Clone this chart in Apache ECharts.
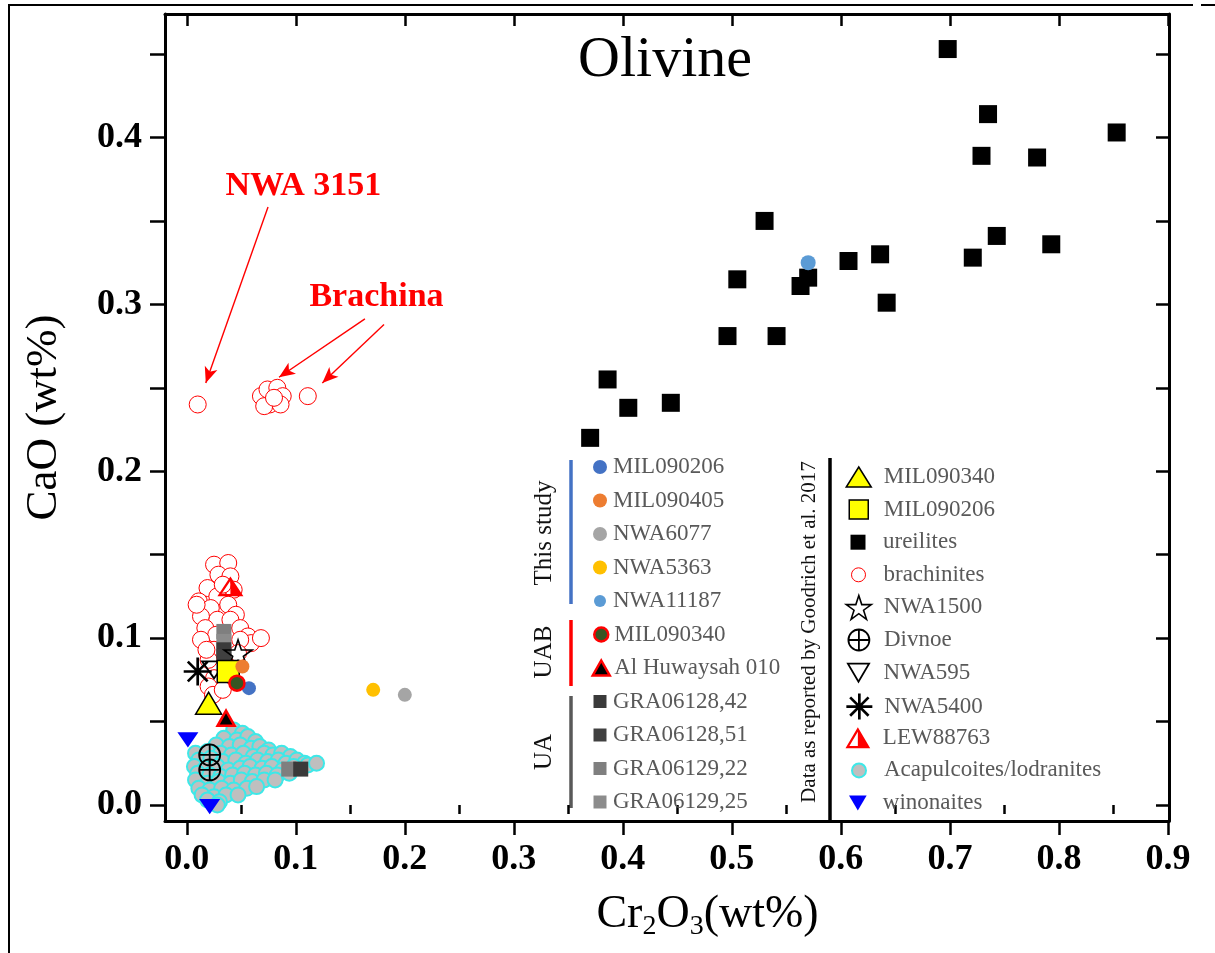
<!DOCTYPE html>
<html>
<head>
<meta charset="utf-8">
<script src="https://cdn.jsdelivr.net/npm/echarts@6/dist/echarts.min.js"></script>
<style>
  html, body { margin: 0; padding: 0; background: #fff; }
  #chart { width: 1215px; height: 953px; }
</style>
</head>
<body>
<div id="chart"></div>
<script>
// ---- axis ticks ----
const xTicks = [0, 0.1, 0.2, 0.3, 0.4, 0.5, 0.6, 0.7, 0.8, 0.9];
const xMinorTicks = [0.05, 0.15, 0.25, 0.35, 0.45, 0.55, 0.65, 0.75, 0.85];
const yTicks = [0, 0.1, 0.2, 0.3, 0.4];
const yAllTicks = [0, 0.05, 0.1, 0.15, 0.2, 0.25, 0.3, 0.35, 0.4, 0.45];

// ---- olivine Cr2O3 (x) vs CaO (y), wt% ----
// This study
const mil090206 = [[0.057, 0.070]];
const mil090405 = [[0.051, 0.083]];
const nwa6077 = [[0.200, 0.066]];
const nwa5363 = [[0.171, 0.069]];
const nwa11187 = [[0.570, 0.325]];
// UAB
const mil090340Uab = [[0.046, 0.073]];
const alHuwaysah010 = [[0.036, 0.052]];
// UA
const gra06128_42 = [[0.034, 0.093], [0.1045, 0.0215]];
const gra06128_51 = [[0.034, 0.089]];
const gra06129_22 = [[0.034, 0.104], [0.0935, 0.0215]];
const gra06129_25 = [[0.034, 0.098]];
// Goodrich et al. 2017
const mil090340G = [[0.020, 0.061]];
const mil090206G = [[0.038, 0.080]];
const ureilites = [
  [0.698, 0.453], [0.735, 0.414], [0.729, 0.389], [0.780, 0.388], [0.853, 0.403],
  [0.530, 0.350], [0.743, 0.341], [0.793, 0.336], [0.721, 0.328], [0.607, 0.326],
  [0.636, 0.330], [0.505, 0.315], [0.570, 0.316], [0.563, 0.311], [0.642, 0.301],
  [0.496, 0.281], [0.541, 0.281], [0.386, 0.255], [0.405, 0.238], [0.444, 0.241],
  [0.370, 0.220]
];
const brachinites = [
  [0.010, 0.240],
  [0.068, 0.245], [0.074, 0.249], [0.083, 0.250], [0.088, 0.245], [0.076, 0.240],
  [0.086, 0.240], [0.071, 0.239], [0.080, 0.244],
  [0.111, 0.245],
  [0.025, 0.144], [0.038, 0.145], [0.029, 0.138], [0.040, 0.137], [0.019, 0.130],
  [0.011, 0.122], [0.028, 0.125], [0.043, 0.129], [0.038, 0.120], [0.022, 0.118],
  [0.013, 0.113], [0.045, 0.114], [0.028, 0.111], [0.040, 0.111], [0.017, 0.106],
  [0.027, 0.102], [0.049, 0.106], [0.013, 0.099], [0.056, 0.101], [0.059, 0.097],
  [0.049, 0.099], [0.025, 0.093], [0.047, 0.091], [0.020, 0.087], [0.025, 0.076],
  [0.020, 0.071], [0.024, 0.066], [0.033, 0.069], [0.009, 0.120], [0.033, 0.132],
  [0.018, 0.093], [0.068, 0.100]
];
const nwa1500 = [[0.047, 0.091]];
const divnoe = [[0.021, 0.030], [0.021, 0.021]];
const nwa595 = [[0.025, 0.081]];
const nwa5400 = [[0.010, 0.080]];
const lew88763 = [[0.040, 0.131]];
const acapulcoites = [
  [0.043, 0.045], [0.051, 0.043],
  [0.034, 0.040], [0.046, 0.039], [0.056, 0.041], [0.063, 0.038],
  [0.027, 0.036], [0.039, 0.035], [0.049, 0.036], [0.059, 0.034], [0.067, 0.035], [0.075, 0.033],
  [0.008, 0.031], [0.019, 0.032], [0.031, 0.031], [0.041, 0.030], [0.052, 0.031], [0.061, 0.029],
  [0.071, 0.031], [0.079, 0.030], [0.087, 0.031], [0.095, 0.029],
  [0.011, 0.027], [0.022, 0.028], [0.033, 0.026], [0.045, 0.027], [0.054, 0.025], [0.065, 0.027],
  [0.074, 0.026], [0.084, 0.027], [0.091, 0.025], [0.101, 0.027], [0.108, 0.025],
  [0.007, 0.023], [0.017, 0.022], [0.028, 0.023], [0.038, 0.021], [0.049, 0.022], [0.058, 0.023],
  [0.069, 0.022], [0.078, 0.023], [0.088, 0.021], [0.098, 0.023], [0.111, 0.024], [0.119, 0.025],
  [0.010, 0.019], [0.021, 0.018], [0.031, 0.017], [0.042, 0.018], [0.053, 0.019], [0.063, 0.018],
  [0.073, 0.019], [0.083, 0.018], [0.094, 0.019],
  [0.008, 0.015], [0.019, 0.013], [0.029, 0.014], [0.040, 0.013], [0.050, 0.015], [0.060, 0.014],
  [0.071, 0.015], [0.081, 0.015],
  [0.011, 0.010], [0.021, 0.009], [0.032, 0.010], [0.043, 0.009], [0.055, 0.010], [0.064, 0.011],
  [0.014, 0.006], [0.025, 0.005], [0.036, 0.006], [0.047, 0.006],
  [0.019, 0.003], [0.030, 0.002],
  [0.028, 0.000]
];
const winonaites = [[0.001, 0.039], [0.021, -0.001]];

// ---- annotations ----
const noteLabels = [
  { name: 'NWA 3151', value: [0.107, 0.371] },
  { name: 'Brachina', value: [0.174, 0.304] }
];
const noteArrows = [
  [[0.0745, 0.3584], [0.0174, 0.2529]],
  [[0.1634, 0.2913], [0.0846, 0.2563]],
  [[0.1809, 0.2879], [0.1243, 0.2529]]
];

// ---- drawing ----
const SERIF = "'Liberation Serif', 'Times New Roman', serif";
const X_MIN = -0.02, X_MAX = 0.901;
const Y_MIN = -0.0096, Y_MAX = 0.474;

const STAR = 'path://M0,-10 L2.245,-3.09 L9.511,-3.09 L3.633,1.18 L5.878,8.09 L0,3.82 L-5.878,8.09 L-3.633,1.18 L-9.511,-3.09 L-2.245,-3.09 Z';
const CROSS_CIRCLE = 'path://M-10,0 A10,10 0 1,1 10,0 A10,10 0 1,1 -10,0 Z M-10,0 L10,0 M0,-10 L0,10';
const ASTERISK = 'path://M-10,0 L10,0 M0,-10 L0,10 M-7.07,-7.07 L7.07,7.07 M-7.07,7.07 L7.07,-7.07';
const HALF_TRIANGLE = 'path://M0,0 L10,17 L-10,17 Z M0,3.55 L-6.85,15.2 L6.85,15.2 Z M0,0 L10,17 L0,17 Z';
const DOWN_TRIANGLE = 'path://M-10,0 L10,0 L0,17 Z';

function scatter(name, data, symbol, size, itemStyle, extra) {
  return Object.assign({
    type: 'scatter', name: name, data: data, symbol: symbol, symbolSize: size,
    symbolKeepAspect: true, itemStyle: Object.assign({ opacity: 1 }, itemStyle),
    emphasis: { disabled: true }, z: 3
  }, extra || {});
}

const series = [
  scatter('brachinites', brachinites, 'circle', 17, { color: '#fff', borderColor: '#ff0000', borderWidth: 1 }),
  scatter('Acapulcoites/lodranites', acapulcoites, 'circle', 15, { color: '#bfbfbf', borderColor: '#3ee8e8', borderWidth: 2 }),
  scatter('winonaites', winonaites, DOWN_TRIANGLE, [21, 18], { color: '#0000ff' }),
  scatter('LEW88763', lew88763, HALF_TRIANGLE, [26, 23], { color: '#ff0000', borderWidth: 0 }),
  scatter('GRA06129,22', gra06129_22, 'rect', 15, { color: '#7f7f7f' }),
  scatter('GRA06129,25', gra06129_25, 'rect', 15, { color: '#8c8c8c' }),
  scatter('GRA06128,42', gra06128_42, 'rect', 15, { color: '#3a3a3a' }),
  scatter('GRA06128,51', gra06128_51, 'rect', 15, { color: '#404040' }),
  scatter('NWA595', nwa595, DOWN_TRIANGLE, [24, 20], { color: 'transparent', borderColor: '#000', borderWidth: 1.8 }),
  scatter('NWA1500', nwa1500, STAR, 28, { color: 'transparent', borderColor: '#000', borderWidth: 1.6 }),
  scatter('NWA5400', nwa5400, ASTERISK, 28, { color: 'transparent', borderColor: '#000', borderWidth: 2.7 }),
  scatter('Divnoe', divnoe, CROSS_CIRCLE, 21, { color: 'transparent', borderColor: '#000', borderWidth: 1.8 }),
  scatter('MIL090340 (Goodrich)', mil090340G, 'triangle', [26, 22], { color: '#ffff00', borderColor: '#000', borderWidth: 1.5 }),
  scatter('MIL090206 (Goodrich)', mil090206G, 'rect', 22, { color: '#ffff00', borderColor: '#000', borderWidth: 1.5 }),
  scatter('MIL090206', mil090206, 'circle', 14, { color: '#4472c4' }),
  scatter('MIL090405', mil090405, 'circle', 14, { color: '#ed7d31' }),
  scatter('MIL090340', mil090340Uab, 'circle', 15, { color: '#375623', borderColor: '#ff0000', borderWidth: 2.5 }),
  scatter('Al Huwaysah 010', alHuwaysah010, 'triangle', [17, 15], { color: '#000', borderColor: '#ff0000', borderWidth: 2.5 }),
  scatter('ureilites', ureilites, 'rect', 18, { color: '#000' }),
  scatter('NWA11187', nwa11187, 'circle', 15, { color: '#5b9bd5' }),
  scatter('NWA5363', nwa5363, 'circle', 14, { color: '#ffc000' }),
  scatter('NWA6077', nwa6077, 'circle', 14, { color: '#a5a5a5' }),
  {
    type: 'scatter', name: 'notes', data: noteLabels, symbolSize: 0, silent: true, z: 4,
    itemStyle: { opacity: 1 },
    label: {
      show: true, position: 'inside', formatter: '{b}', opacity: 1,
      fontFamily: SERIF, fontWeight: 'bold', fontSize: 34, color: '#ff0000'
    },
    markLine: {
      silent: true, animation: false,
      symbol: ['none', 'arrow'], symbolSize: [10, 16],
      label: { show: false },
      lineStyle: { color: '#ff0000', width: 1.4, type: 'solid', opacity: 1 },
      emphasis: { disabled: true },
      data: noteArrows.map(a => [{ coord: a[0] }, { coord: a[1] }])
    }
  }
];

// ---- legends: one component per row so each icon gets its own size ----
const LEGEND_TEXT = { fontFamily: SERIF, fontSize: 23, color: '#595959', lineHeight: 26 };
function legendRow(name, cx, cy, w, h, textX, label, itemStyle) {
  const pad = textX - (cx + w / 2 + 5);
  const row = {
    data: [name], left: cx - w / 2, top: cy - Math.max(h, 26) / 2,
    itemWidth: w, itemHeight: h, padding: 0, selectedMode: false,
    textStyle: Object.assign({ padding: [0, 0, 0, pad] }, LEGEND_TEXT)
  };
  if (label) row.formatter = () => label;
  if (itemStyle) row.itemStyle = itemStyle;
  return row;
}

const leftRows = [
  ['MIL090206', 14, 14], ['MIL090405', 14, 14], ['NWA6077', 14, 14], ['NWA5363', 14, 14],
  ['NWA11187', 12, 12], ['MIL090340', 14, 14, null, { borderWidth: 2.5 }],
  ['Al Huwaysah 010', 17, 15, null, { borderWidth: 2.5 }],
  ['GRA06128,42', 13, 13], ['GRA06128,51', 13, 13], ['GRA06129,22', 13, 13], ['GRA06129,25', 13, 13]
];
const rightRows = [
  ['MIL090340 (Goodrich)', 25, 20, 'MIL090340', { borderWidth: 1.5 }],
  ['MIL090206 (Goodrich)', 19, 19, 'MIL090206', { borderWidth: 1.5 }],
  ['ureilites', 15, 15], ['brachinites', 14, 14, null, { borderWidth: 1 }],
  ['NWA1500', 25, 24, null, { borderWidth: 1.6 }], ['Divnoe', 21, 21, null, { borderWidth: 1.8 }],
  ['NWA595', 22, 18, null, { borderWidth: 1.8 }], ['NWA5400', 26, 26, null, { borderWidth: 2.7 }],
  ['LEW88763', 25, 21, null, { borderWidth: 0 }],
  ['Acapulcoites/lodranites', 14, 14, null, { borderWidth: 2 }],
  ['winonaites', 18, 15]
];
const legends = [];
leftRows.forEach((r, i) => legends.push(legendRow(r[0], 600, 467 + 33.5 * i, r[1], r[2], 613, r[3], r[4])));
rightRows.forEach((r, i) => legends.push(legendRow(r[0], 858, 477 + 32.6 * i, r[1], r[2], 883, r[3], r[4])));

function vLabel(text, x, y, size) {
  return {
    type: 'text', x: x, y: y, rotation: Math.PI / 2, silent: true,
    style: { text: text, fontFamily: SERIF, fontSize: size, fill: '#111', align: 'center', verticalAlign: 'middle' }
  };
}
function vBar(x, y1, y2, color) {
  return {
    type: 'line', silent: true,
    shape: { x1: x, y1: y1, x2: x, y2: y2 },
    style: { stroke: color, lineWidth: 3.5 }
  };
}

const graphics = [
  { type: 'line', silent: true, shape: { x1: 8, y1: 5, x2: 1193, y2: 5 }, style: { stroke: '#000', lineWidth: 2 } },
  { type: 'line', silent: true, shape: { x1: 1201, y1: 5, x2: 1215, y2: 5 }, style: { stroke: '#000', lineWidth: 2 } },
  { type: 'line', silent: true, shape: { x1: 9, y1: 5, x2: 9, y2: 953 }, style: { stroke: '#000', lineWidth: 2 } },
  {
    type: 'text', x: 665, y: 61, silent: true,
    style: { text: 'Olivine', fontFamily: SERIF, fontSize: 58, fill: '#000', align: 'center', verticalAlign: 'middle' }
  },
  vLabel('This study', 544, 533, 25), vBar(571, 460, 604, '#4472c4'),
  vLabel('UAB', 544, 652, 25), vBar(571, 620, 686, '#ff0000'),
  vLabel('UA', 544, 752, 25), vBar(571, 696, 808, '#595959'),
  vLabel('Data as reported by Goodrich et al. 2017', 809, 632, 21), vBar(830, 458, 822, '#000')
];

const baseAxis = { type: 'value', splitLine: { show: false }, axisLine: { show: false } };
const tickStyle = { color: '#000', width: 2.5 };

const option = {
  animation: false,
  backgroundColor: '#fff',
  grid: { left: 165, right: 46, top: 14, bottom: 132 },
  xAxis: [
    Object.assign({}, baseAxis, {
      position: 'bottom', min: X_MIN, max: X_MAX,
      axisLine: { show: true, onZero: false, lineStyle: { color: '#000', width: 3 } },
      axisTick: { customValues: xTicks, length: 14, lineStyle: tickStyle },
      axisLabel: {
        customValues: xTicks, formatter: v => v.toFixed(1), margin: 21,
        fontFamily: SERIF, fontWeight: 'bold', fontSize: 36, color: '#000'
      },
      name: '{m|Cr}{s|2}{m|O}{s|3}{m|(wt%)}', nameLocation: 'middle', nameGap: 68,
      nameTextStyle: {
        padding: [0, 0, 0, 81],
        rich: {
          m: { fontFamily: SERIF, fontSize: 46, color: '#000', lineHeight: 52 },
          s: { fontFamily: SERIF, fontSize: 28, color: '#000', lineHeight: 31, verticalAlign: 'bottom' }
        }
      }
    }),
    Object.assign({}, baseAxis, {
      position: 'bottom', min: X_MIN, max: X_MAX,
      axisTick: { customValues: xMinorTicks, length: 9, lineStyle: tickStyle },
      axisLabel: { show: false }
    }),
    Object.assign({}, baseAxis, {
      position: 'top', min: X_MIN, max: X_MAX,
      axisLine: { show: true, onZero: false, lineStyle: { color: '#000', width: 3 } },
      axisTick: { inside: true, customValues: xTicks, length: 12, lineStyle: tickStyle },
      axisLabel: { show: false }
    }),
    Object.assign({}, baseAxis, {
      position: 'top', min: X_MIN, max: X_MAX,
      axisTick: { inside: true, customValues: xMinorTicks, length: 8, lineStyle: tickStyle },
      axisLabel: { show: false }
    })
  ],
  yAxis: [
    Object.assign({}, baseAxis, {
      position: 'left', min: Y_MIN, max: Y_MAX,
      axisLine: { show: true, onZero: false, lineStyle: { color: '#000', width: 3 } },
      axisTick: { customValues: yAllTicks, length: 15, lineStyle: tickStyle },
      axisLabel: {
        customValues: yTicks, formatter: v => v.toFixed(1), margin: 23,
        fontFamily: SERIF, fontWeight: 'bold', fontSize: 36, color: '#000'
      },
      name: 'CaO (wt%)', nameLocation: 'middle', nameGap: 96,
      nameTextStyle: { fontFamily: SERIF, fontSize: 45, color: '#000', lineHeight: 50 }
    }),
    Object.assign({}, baseAxis, {
      position: 'right', min: Y_MIN, max: Y_MAX,
      axisLine: { show: true, onZero: false, lineStyle: { color: '#000', width: 3 } },
      axisTick: { inside: true, customValues: yAllTicks, length: 13, lineStyle: tickStyle },
      axisLabel: { show: false }
    })
  ],
  legend: legends,
  graphic: graphics,
  series: series
};

const chart = echarts.init(document.getElementById('chart'), null, { renderer: 'canvas' });
chart.setOption(option);
</script>
</body>
</html>
